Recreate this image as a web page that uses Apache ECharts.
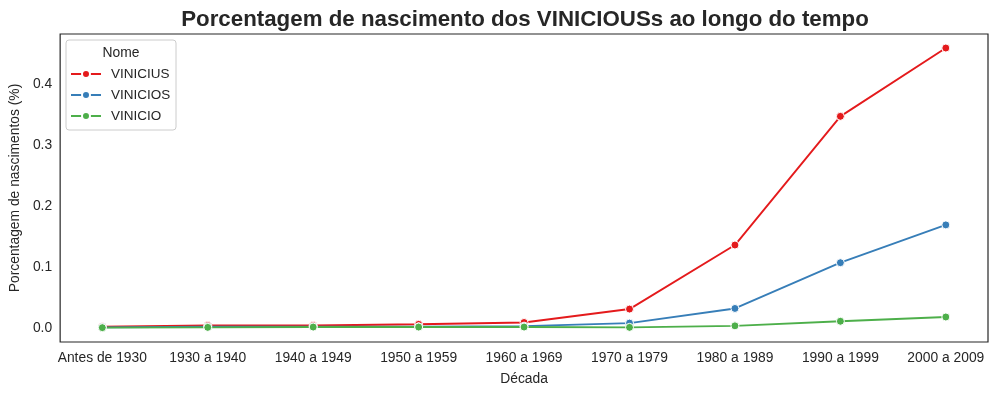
<!DOCTYPE html>
<html><head><meta charset="utf-8">
<script src="https://cdn.jsdelivr.net/npm/echarts@6/dist/echarts.min.js"></script>
<style>html,body{margin:0;padding:0;background:#fff}#c{width:998px;height:395px}</style>
</head><body><div id="c"></div>
<script>
const categories = ["Antes de 1930","1930 a 1940","1940 a 1949","1950 a 1959","1960 a 1969","1970 a 1979","1980 a 1989","1990 a 1999","2000 a 2009"];
const vinicius = [0.002,0.004,0.004,0.006,0.009,0.031,0.136,0.347,0.459];
const vinicios = [0.001,0.002,0.002,0.002,0.003,0.008,0.032,0.107,0.169];
const vinicio  = [0.0005,0.001,0.0015,0.0015,0.0015,0.001,0.0035,0.011,0.018];
const yTicks = [0,0.1,0.2,0.3,0.4];
const seriesNames = ["VINICIUS","VINICIOS","VINICIO"];
const colors = ["#e41a1c","#377eb8","#4daf4a"];
const FONT = "Liberation Sans";
const TXT = "#262626";
const FS = 13.85;
const chart = echarts.init(document.getElementById('c'));
function mk(name, vals, color){
  return {
    name, type:'line', data: vals.map((v,i)=>[i,v]),
    symbol:'circle', symbolSize:8,
    lineStyle:{color, width:1.9},
    itemStyle:{color, borderColor:'#fff', borderWidth:1},
    emphasis:{disabled:true}, animation:false
  };
}
chart.setOption({
  animation:false,
  textStyle:{fontFamily:FONT},
  title:{text:"Porcentagem de nascimento dos VINICIOUSs ao longo do tempo", left:520, top:4, textAlign:'center',
    textStyle:{fontFamily:FONT, fontWeight:'bold', fontSize:22.3, color:TXT}},
  grid:{left:59, right:10, top:34, bottom:53, show:true, borderColor:'#262626', borderWidth:1.2, containLabel:false},
  xAxis:{type:'value', min:-0.4, max:8.4,
    name:"Década", nameLocation:'middle', nameGap:30, nameTextStyle:{fontSize:FS, color:TXT, fontFamily:FONT},
    axisLine:{show:false}, axisTick:{show:false}, splitLine:{show:false},
    axisLabel:{customValues:categories.map((c,i)=>i), formatter:v=>categories[Math.round(v)], fontSize:FS, color:TXT, margin:9, fontFamily:FONT}},
  yAxis:{type:'value', min:-0.023, max:0.482,
    name:"Porcentagem de nascimentos (%)", nameLocation:'middle', nameGap:35, nameRotate:90,
    nameTextStyle:{fontSize:FS, color:TXT, fontFamily:FONT},
    axisLine:{show:false}, axisTick:{show:false}, splitLine:{show:false},
    axisLabel:{customValues:yTicks, formatter:v=>v.toFixed(1), fontSize:FS, color:TXT, margin:8, fontFamily:FONT}},
  legend:{data:seriesNames, orient:'vertical', left:70, top:67, padding:0, itemWidth:30, itemHeight:10, itemGap:7,
    textStyle:{fontSize:13.5, color:TXT, fontFamily:FONT, padding:[0,0,0,5]}},
  graphic:[
    {type:'rect', shape:{x:66, y:40, width:110, height:90, r:3}, style:{fill:'rgba(255,255,255,0.8)', stroke:'#cccccc', lineWidth:1}, z:-1},
    {type:'text', x:121, y:53, style:{text:'Nome', fontSize:FS, fill:TXT, fontFamily:FONT, align:'center', verticalAlign:'middle'}}
  ],
  series:[mk(seriesNames[0],vinicius,colors[0]), mk(seriesNames[1],vinicios,colors[1]), mk(seriesNames[2],vinicio,colors[2])]
});
</script></body></html>
